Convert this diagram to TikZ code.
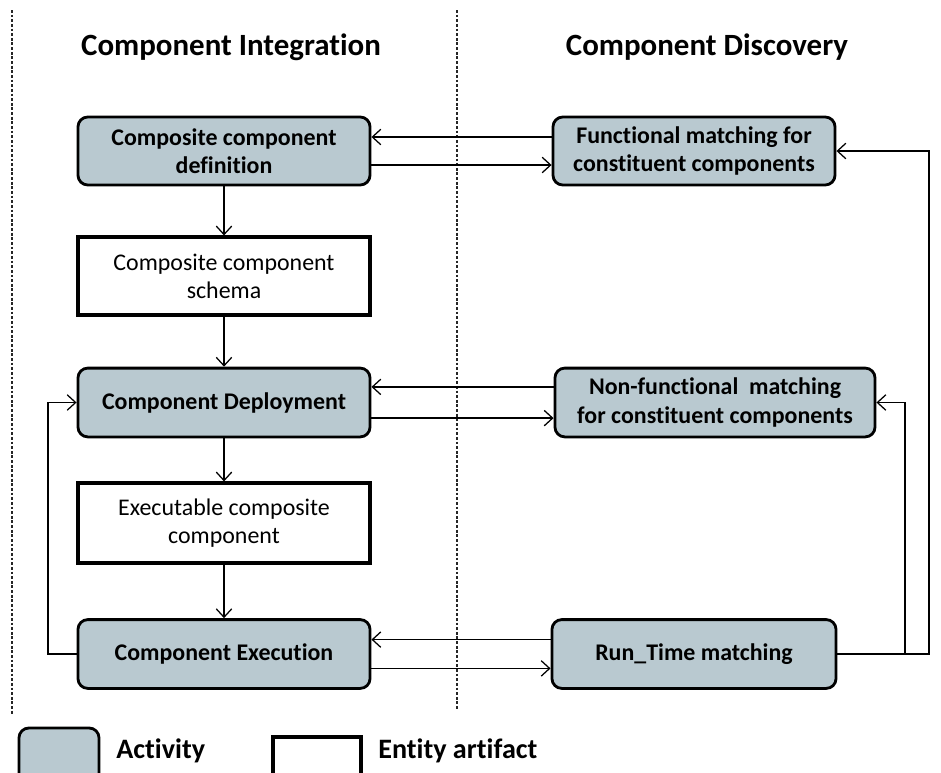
\documentclass[tikz,border=0pt]{standalone}
\usepackage{fontspec}
\setmainfont[Ligatures=NoCommon]{Carlito}
\usepackage{tikz}
\usetikzlibrary{arrows.meta,positioning,calc}
\definecolor{actfill}{RGB}{185,201,208}
\tikzset{activity/.style={draw=black,fill=actfill,line width=2pt,rounded corners=7pt,align=center,inner sep=2pt,font=\fontsize{17}{20}\selectfont\bfseries}}
\tikzset{entity/.style={draw=black,fill=white,line width=2.2pt,align=center,inner sep=2pt,font=\fontsize{17}{20}\selectfont}}
\tikzset{lane/.style={-,draw=black!85,line width=0.8pt,dash pattern=on 2pt off 1.3pt}}
\tikzset{heading/.style={font=\fontsize{22}{26}\selectfont\bfseries}}

\begin{document}
\begin{tikzpicture}[x=0.025cm, y=-0.025cm, ->, >={Straight Barb[length=6pt,width=11pt]}, line width=0.9pt]
        \clip (0,0) rectangle (941,772);
        % swim lanes
        \draw[lane] (12,10) -- (12,715);
        \draw[lane] (457,10) -- (457,709);
        \node[heading] (integr) at (231,47) {Component Integration};
        \node[heading] (discov) at (707,47) {Component Discovery};
        % integration side
        \node[activity, minimum width=7.3cm, minimum height=1.7cm] (def) at (224,151) {Composite component\\definition};
        \node[entity, minimum width=7.3cm, minimum height=1.95cm] (schema) at (224,276) {Composite component\\schema};
        \node[activity, minimum width=7.3cm, minimum height=1.72cm] (deploy) at (224,402.5) {Component Deployment};
        \node[entity, minimum width=7.3cm, minimum height=2cm] (execcomp) at (224,523) {Executable composite\\component};
        \node[activity, minimum width=7.3cm, minimum height=1.72cm] (exec) at (224,654) {Component Execution};
        % discovery side
        \node[activity, minimum width=7.05cm, minimum height=1.7cm] (func) at (694,151) {Functional matching for\\constituent components};
        \node[activity, minimum width=8cm, minimum height=1.72cm] (nonfunc) at (715,402.5) {Non-functional\ \ matching\\for constituent components};
        \node[activity, minimum width=7.1cm, minimum height=1.72cm] (runtime) at (694,654) {Run\_Time matching};
        % feedback corners
        \coordinate (fbouter) at (929,151);
        \coordinate (fbinner) at (905,402.5);
        \coordinate (fbleft) at (48,402.5);
        % flow
        \draw (def) -- (schema);
        \draw (schema) -- (deploy);
        \draw (deploy) -- (execcomp);
        \draw (execcomp) -- (exec);
        \draw ([yshift=0.35cm]func.west) -- ([yshift=0.35cm]def.east);
        \draw ([yshift=-0.35cm]def.east) -- ([yshift=-0.35cm]func.west);
        \draw ([yshift=0.39cm]nonfunc.west) -- ([yshift=0.39cm]deploy.east);
        \draw ([yshift=-0.39cm]deploy.east) -- ([yshift=-0.39cm]nonfunc.west);
        \draw ([yshift=0.36cm]runtime.west) -- ([yshift=0.36cm]exec.east);
        \draw ([yshift=-0.36cm]exec.east) -- ([yshift=-0.36cm]runtime.west);
        \draw (runtime.east) -| (fbouter) -- (func.east);
        \draw (runtime.east) -| (fbinner) -- (nonfunc.east);
        \draw (exec.west) -| (fbleft) -- (deploy.west);
        % legend
        \node[activity, minimum width=2cm, minimum height=1.6cm] (legact) at (59,760) {};
        \node[anchor=base west, heading, font=\fontsize{20}{24}\selectfont\bfseries] (legacttext) at (111,758) {Activity};
        \node[entity, minimum width=2.2cm, minimum height=1.6cm] (legent) at (317,769) {};
        \node[anchor=base west, heading, font=\fontsize{20}{24}\selectfont\bfseries] (legenttext) at (373,758) {Entity artifact};
\end{tikzpicture}
\end{document}
